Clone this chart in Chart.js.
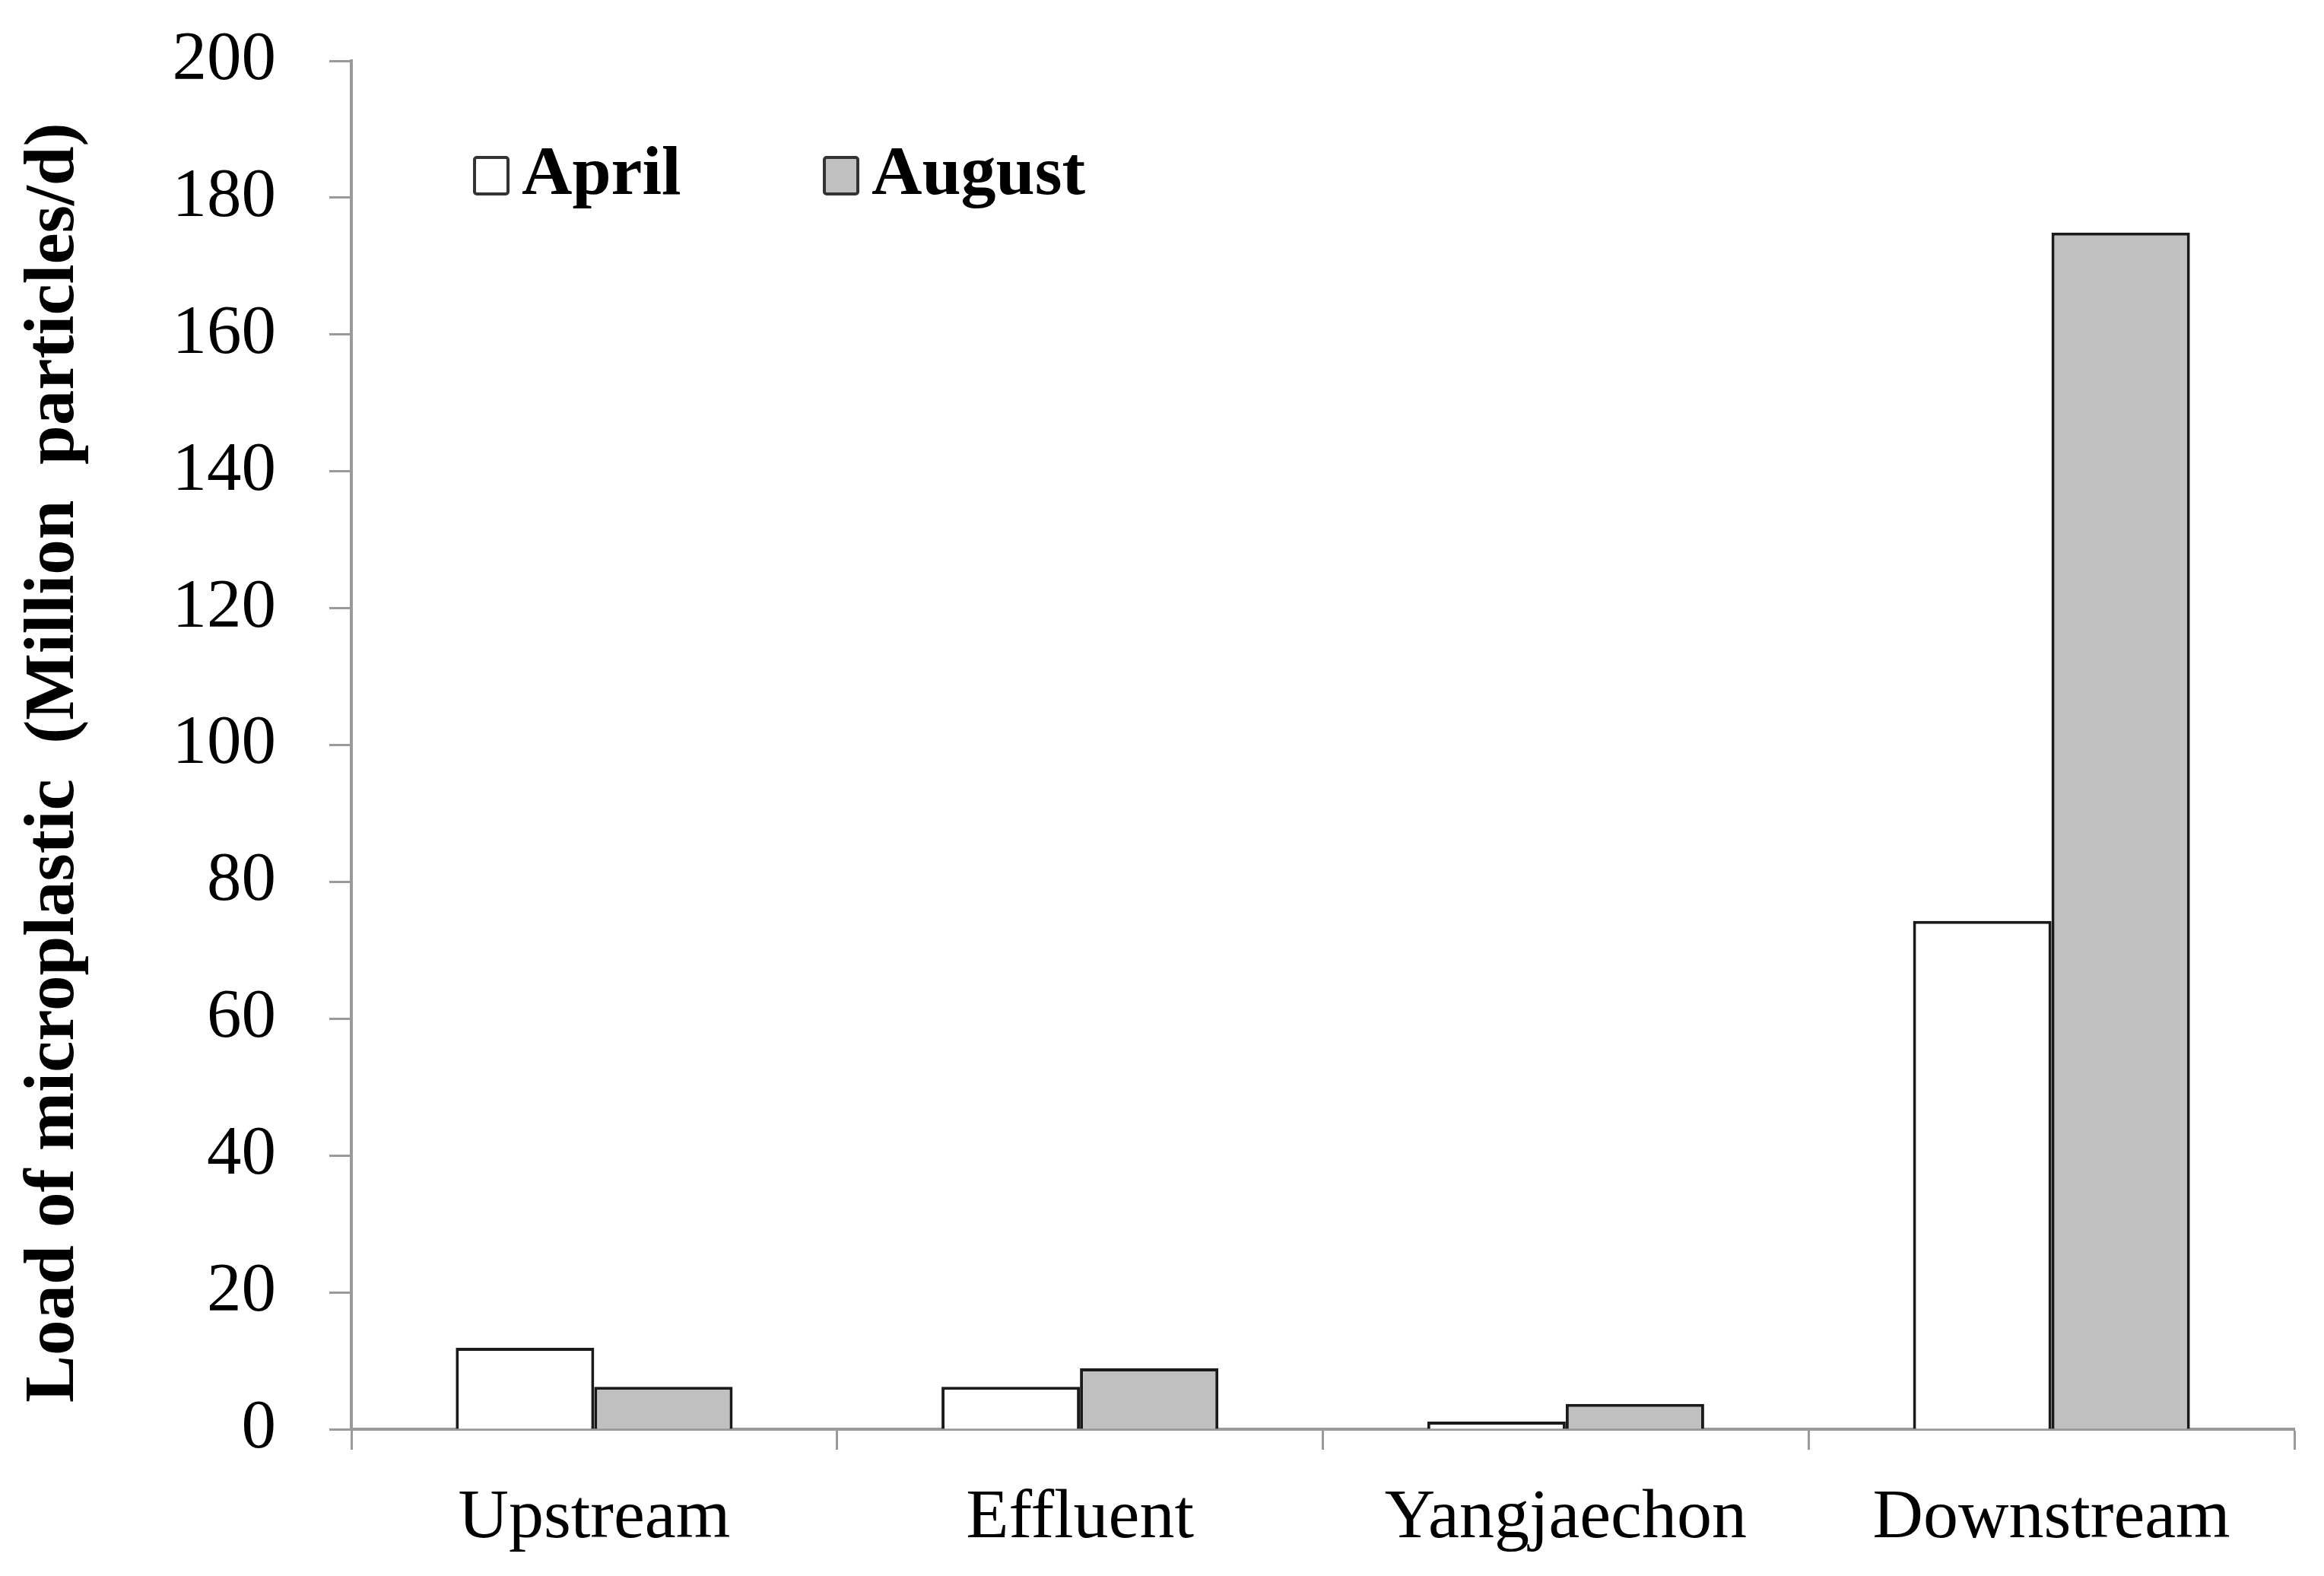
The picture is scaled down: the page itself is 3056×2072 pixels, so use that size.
<!DOCTYPE html>
<html>
    <head>
        <title>Microplastic load</title>
        <script src="https://cdn.jsdelivr.net/npm/chart.js@4.4.1/dist/chart.umd.min.js"></script>
        <style>
            body { margin: 0; background: #fff; }
        </style>
    </head>
    <body>
        <canvas id="loadChart" width="3056" height="2072"></canvas>
    <script>
        // values (Million particles/d)
        const sites = ['Upstream', 'Effluent', 'Yangjaechon', 'Downstream'];
        const april = [11.9, 6.2, 1.1, 74.3];
        const august = [6.2, 8.9, 3.7, 174.9];
        const yTicks = [0, 20, 40, 60, 80, 100, 120, 140, 160, 180, 200];

        const serif = "'Liberation Serif', 'Times New Roman', serif";
        const axisGrey = '#9a9a9a';

        // legend sits inside the plot, top left
        const insideLegend = {
            id: 'insideLegend',
            afterDraw(chart) {
                const ctx = chart.ctx;
                const area = chart.chartArea;
                const starts = [162, 622];
                ctx.save();
                ctx.font = 'bold 92px ' + serif;
                ctx.textBaseline = 'middle';
                chart.data.datasets.forEach((ds, i) => {
                    const x = area.left + starts[i];
                    const y = 207;
                    ctx.fillStyle = ds.backgroundColor;
                    ctx.strokeStyle = '#333';
                    ctx.lineWidth = 4;
                    ctx.beginPath();
                    ctx.roundRect(x, y, 44, 48, 3);
                    ctx.fill();
                    ctx.stroke();
                    ctx.fillStyle = '#000';
                    ctx.fillText(ds.label, x + 62, y + 24);
                });
                ctx.restore();
            }
        };

        const ctx = document.getElementById('loadChart').getContext('2d');
        const loadChart = new Chart(ctx, {
            type: 'bar',
            data: {
                labels: sites,
                datasets: [
                    { label: 'April', data: april, backgroundColor: '#ffffff', borderColor: '#1a1a1a', borderWidth: 4 },
                    { label: 'August', data: august, backgroundColor: '#c0c0c0', borderColor: '#1a1a1a', borderWidth: 4 }
                ]
            },
            options: {
                responsive: false,
                devicePixelRatio: 1,
                animation: false,
                layout: { padding: { top: 80, right: 39, left: 0, bottom: 0 } },
                datasets: { bar: { barPercentage: 1, categoryPercentage: 0.57 } },
                plugins: { legend: { display: false }, tooltip: { enabled: false } },
                scales: {
                    x: {
                        grid: { drawOnChartArea: false, drawTicks: true, tickLength: 27, tickWidth: 3, tickColor: axisGrey, offset: true },
                        border: { color: axisGrey, width: 4 },
                        ticks: { color: '#000', font: { family: serif, size: 92 }, padding: 36, maxRotation: 0 },
                        afterFit: s => { s.height = 193; }
                    },
                    y: {
                        min: 0,
                        max: 200,
                        afterBuildTicks: s => { s.ticks = yTicks.map(v => ({ value: v })); },
                        grid: { drawOnChartArea: false, drawTicks: true, tickLength: 29, tickWidth: 3, tickColor: axisGrey },
                        border: { color: axisGrey, width: 4 },
                        ticks: { color: '#000', font: { family: serif, size: 91 }, padding: 70 },
                        title: {
                            display: true,
                            // trailing spaces nudge the centred title down a little, like the original
                            text: 'Load of microplastic  (Million  particles/d)  ',
                            color: '#000',
                            font: { family: serif, size: 93, weight: 'bold' },
                            padding: { top: 16, bottom: 0 }
                        },
                        afterFit: s => { s.width = 462; s.paddingTop = 0; s.paddingBottom = 0; }
                    }
                }
            },
            plugins: [insideLegend]
        });
    </script>
    </body>
</html>
